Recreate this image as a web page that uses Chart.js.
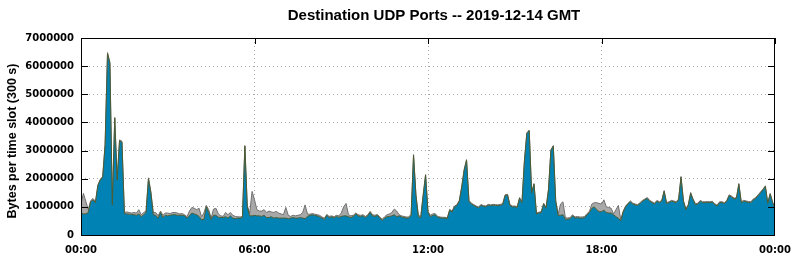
<!DOCTYPE html>
<html>
<head>
<meta charset="utf-8">
<script src="https://cdn.jsdelivr.net/npm/chart.js@4"></script>
<style>
  html, body { margin: 0; padding: 0; background: #fff; }
  canvas { display: block; }
</style>
</head>
<body>
<canvas id="udpChart" width="795" height="260"></canvas>
<script>
// 5-minute slots over the day (0..288), values in millions of bytes per slot
const slotCount = 288;
const xTickLabels = ['00:00', '06:00', '12:00', '18:00', '00:00'];
const chartTitle = 'Destination UDP Ports -- 2019-12-14 GMT';
const yAxisTitle = 'Bytes per time slot (300 s)';

const udpMB = [
  0.78,0.75,0.75,0.8,1.18,1.25,1.15,1.75,1.95,2.05,3.2,6.45,
  6.1,1.07,4.15,1.95,3.35,3.3,0.77,0.75,0.74,0.73,0.72,0.7,
  0.75,0.65,0.72,0.8,2.0,1.5,0.72,0.7,0.6,0.8,0.62,0.7,
  0.68,0.7,0.72,0.72,0.7,0.7,0.7,0.68,0.6,0.68,0.78,0.75,
  0.72,0.66,0.55,0.55,1.0,0.8,0.55,0.7,0.7,0.63,0.62,0.62,
  0.65,0.6,0.68,0.6,0.58,0.6,0.6,0.62,3.15,1.0,0.68,0.68,
  0.7,0.68,0.68,0.66,0.7,0.62,0.62,0.65,0.6,0.62,0.6,0.6,
  0.6,0.6,0.58,0.6,0.62,0.6,0.6,0.62,0.6,0.58,0.66,0.7,
  0.72,0.7,0.68,0.65,0.6,0.55,0.7,0.62,0.65,0.6,0.66,0.63,
  0.66,0.68,0.68,0.65,0.62,0.66,0.75,0.68,0.66,0.68,0.62,0.68,
  0.8,0.68,0.66,0.7,0.6,0.52,0.6,0.65,0.66,0.68,0.72,0.65,
  0.68,0.64,0.62,0.6,0.6,0.7,2.84,1.4,0.65,0.62,1.4,2.13,
  0.8,0.65,0.7,0.72,0.63,0.61,0.6,0.6,0.58,0.88,0.82,1.0,
  1.05,1.2,1.7,2.3,2.65,1.2,1.1,1.05,1.0,0.97,1.05,1.02,
  1.0,1.06,1.04,1.06,1.05,1.04,1.06,1.08,1.4,1.42,1.05,1.0,
  1.0,0.98,1.3,1.15,2.6,3.6,3.7,1.5,1.8,0.75,0.78,0.8,
  1.1,0.95,1.6,3.0,3.15,1.2,0.7,0.7,0.72,0.56,0.56,0.58,
  0.68,0.6,0.62,0.6,0.6,0.62,0.72,0.8,0.95,1.0,0.9,0.83,
  0.83,0.88,0.8,0.78,0.78,0.72,0.65,0.6,0.5,0.82,1.0,1.1,
  1.18,1.1,1.07,1.05,1.12,1.2,1.25,1.3,1.2,1.15,1.1,1.2,
  1.15,1.2,1.55,1.12,1.15,1.2,1.18,1.15,1.25,2.05,1.2,0.9,
  1.05,1.48,1.25,1.08,1.1,1.2,1.15,1.15,1.16,1.15,1.17,1.08,
  1.03,1.15,1.15,1.12,1.2,1.4,1.35,1.28,1.3,1.8,1.15,1.2,
  1.18,1.16,1.15,1.25,1.3,1.4,1.5,1.6,1.72,1.12,1.45,1.15,
  0.95
];

const otherMB = [
  0.32,0.73,0.45,0.1,0.04,0.05,0.04,0.03,0.03,0.03,0.03,0.03,
  0.03,0.03,0.03,0.03,0.03,0.03,0.03,0.07,0.06,0.05,0.08,0.08,
  0.15,0.07,0.08,0.05,0.03,0.03,0.08,0.1,0.08,0.05,0.08,0.08,
  0.1,0.06,0.08,0.08,0.08,0.05,0.06,0.04,0.05,0.17,0.2,0.2,
  0.18,0.29,0.1,0.23,0.05,0.1,0.05,0.22,0.25,0.12,0.06,0.04,
  0.15,0.12,0.12,0.1,0.08,0.05,0.04,0.04,0.03,0.05,0.09,0.87,
  0.55,0.22,0.17,0.19,0.2,0.18,0.23,0.17,0.2,0.22,0.18,0.15,
  0.12,0.38,0.12,0.06,0.08,0.08,0.1,0.1,0.2,0.49,0.08,0.04,
  0.04,0.04,0.04,0.05,0.04,0.05,0.03,0.04,0.03,0.05,0.04,0.05,
  0.12,0.32,0.44,0.07,0.06,0.04,0.03,0.04,0.04,0.04,0.04,0.04,
  0.04,0.04,0.04,0.03,0.04,0.04,0.05,0.07,0.09,0.12,0.2,0.2,
  0.04,0.04,0.04,0.04,0.04,0.04,0.02,0.03,0.05,0.04,0.03,0.02,
  0.03,0.05,0.05,0.04,0.03,0.03,0.03,0.03,0.03,0.03,0.03,0.03,
  0.03,0.03,0.03,0.03,0.03,0.03,0.03,0.03,0.03,0.03,0.03,0.03,
  0.03,0.03,0.03,0.03,0.03,0.03,0.03,0.03,0.03,0.03,0.03,0.03,
  0.03,0.03,0.03,0.03,0.03,0.03,0.03,0.03,0.03,0.03,0.03,0.03,
  0.03,0.03,0.03,0.03,0.03,0.03,0.03,0.4,0.46,0.06,0.04,0.04,
  0.04,0.04,0.04,0.04,0.04,0.04,0.04,0.04,0.15,0.15,0.25,0.29,
  0.27,0.37,0.2,0.2,0.17,0.03,0.25,0.45,0.05,0.03,0.03,0.03,
  0.03,0.03,0.03,0.03,0.03,0.03,0.03,0.03,0.03,0.03,0.03,0.03,
  0.03,0.03,0.03,0.03,0.03,0.03,0.03,0.03,0.03,0.03,0.03,0.03,
  0.03,0.03,0.03,0.03,0.03,0.03,0.03,0.03,0.03,0.03,0.03,0.03,
  0.03,0.03,0.03,0.03,0.03,0.03,0.03,0.03,0.03,0.03,0.03,0.03,
  0.03,0.03,0.03,0.03,0.03,0.03,0.03,0.03,0.03,0.03,0.03,0.03,
  0.03
];

const toPoints = arr => arr.map((v, i) => ({ x: i, y: v * 1000000 }));

// frame, inward tick marks and the two titles, drawn on top like gnuplot does
const framePlugin = {
  id: 'frame',
  afterDraw(chart) {
    const { ctx, chartArea: a, scales } = chart;
    const xs = scales.x, ys = scales.y;
    ctx.save();
    ctx.strokeStyle = '#000';
    ctx.lineWidth = 1;
    ctx.beginPath();
    ys.ticks.forEach(t => {
      const py = Math.round(ys.getPixelForValue(t.value)) + 0.5;
      ctx.moveTo(a.left, py); ctx.lineTo(a.left + 7, py);
      ctx.moveTo(a.right, py); ctx.lineTo(a.right - 7, py);
    });
    xs.ticks.forEach(t => {
      const px = Math.round(xs.getPixelForValue(t.value)) + 0.5;
      ctx.moveTo(px, a.top); ctx.lineTo(px, a.top + 6);
    });
    ctx.stroke();
    ctx.strokeRect(a.left + 0.5, a.top + 0.5, a.right - a.left - 1, a.bottom - a.top);

    ctx.fillStyle = '#000';
    ctx.textAlign = 'center';
    ctx.textBaseline = 'alphabetic';
    ctx.font = 'bold 15px "Liberation Sans", Arial, sans-serif';
    ctx.fillText(chartTitle, 434, 20);

    ctx.translate(15.5, 141);
    ctx.rotate(-Math.PI / 2);
    ctx.font = 'bold 12.5px "Liberation Sans", Arial, sans-serif';
    ctx.fillText(yAxisTitle, 0, 0);
    ctx.restore();
  }
};

const tickFont = { family: '"DejaVu Sans", sans-serif', size: 10, weight: 'bold' };

new Chart(document.getElementById('udpChart'), {
  type: 'line',
  data: {
    datasets: [
      {
        label: 'udp',
        data: toPoints(udpMB),
        backgroundColor: '#0082b4',
        borderColor: '#4d5a30',
        borderWidth: 1,
        fill: 'origin',
        pointRadius: 0,
        tension: 0
      },
      {
        label: 'other',
        data: toPoints(otherMB),
        backgroundColor: '#a8a8a8',
        borderColor: '#707070',
        borderWidth: 1,
        fill: '-1',
        pointRadius: 0,
        tension: 0
      }
    ]
  },
  options: {
    responsive: false,
    animation: false,
    devicePixelRatio: 1,
    layout: { padding: { left: 0, right: 20, top: 38, bottom: 0 } },
    plugins: {
      legend: { display: false },
      tooltip: { enabled: false },
      title: { display: false }
    },
    scales: {
      x: {
        type: 'linear',
        min: 0,
        max: slotCount,
        afterFit: s => { s.height = 25; s.paddingLeft = 0; s.paddingRight = 0; },
        afterBuildTicks: s => { s.ticks = [0, 72, 144, 216, 288].map(v => ({ value: v })); },
        ticks: {
          color: '#000',
          font: tickFont,
          padding: 9,
          maxRotation: 0,
          callback: (v, i) => xTickLabels[i]
        },
        grid: {
          drawTicks: false,
          color: ctx => (ctx.index === 0 || ctx.index === 4) ? 'rgba(0,0,0,0)' : '#aaaaaa'
        },
        border: { display: false, dash: [1, 3] }
      },
      y: {
        stacked: true,
        min: 0,
        max: 7000000,
        afterFit: s => { s.width = 81; s.paddingTop = 0; s.paddingBottom = 0; },
        ticks: {
          stepSize: 1000000,
          color: '#000',
          font: tickFont,
          padding: 7,
          callback: v => String(v)
        },
        grid: {
          drawTicks: false,
          color: ctx => (ctx.index === 0 || ctx.index === 7) ? 'rgba(0,0,0,0)' : '#aaaaaa'
        },
        border: { display: false, dash: [1, 3] }
      }
    }
  },
  plugins: [framePlugin]
});
</script>
</body>
</html>
